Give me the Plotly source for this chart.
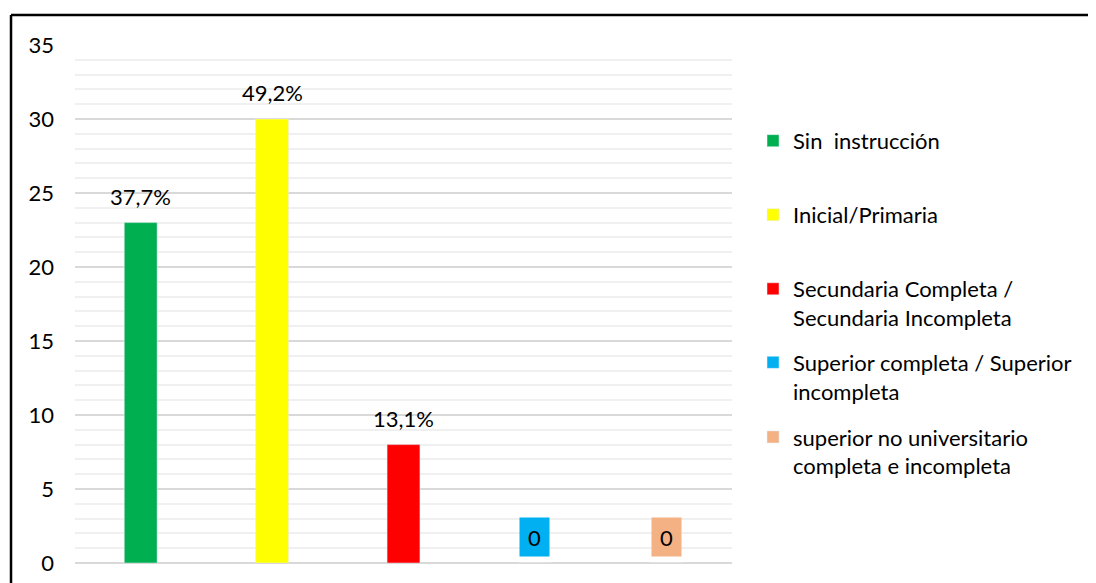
import plotly.graph_objects as go

categories = ["Sin  instrucción", "Inicial/Primaria", "Secundaria Completa /<br>Secundaria Incompleta",
              "Superior completa / Superior<br>incompleta", "superior no universitario<br>completa e incompleta"]
values = [23, 30, 8, 0, 0]
pct_labels = ["37,7%", "49,2%", "13,1%", "0", "0"]
colors = ["#00b050", "#ffff00", "#ff0000", "#00b0f0", "#f4b183"]
legend_y = [0.815, 0.672, 0.501, 0.359, 0.215]

FONT = "Lato"
FS = 22
fig = go.Figure()
legend_ids = ["legend"] + [f"legend{i}" for i in range(2, len(categories) + 1)]
for c, v, col, lid in zip(categories, values, colors, legend_ids):
    fig.add_trace(go.Bar(x=[c], y=[v], name=c, marker_color=col, width=0.25,
                         legend=lid, showlegend=True))

for c, v, lab, col in zip(categories, values, pct_labels, colors):
    if v > 0:
        fig.add_annotation(x=c, y=v, text=lab, showarrow=False, yanchor="bottom", yshift=11,
                           font=dict(family=FONT, size=FS, color="#000"))
    else:
        fig.add_annotation(x=c, y=v, text=lab, showarrow=False, yanchor="bottom", yshift=6,
                           bgcolor=col, borderpad=5, width=19, height=28,
                           font=dict(family=FONT, size=FS, color="#000"))

# outer frame (top and left edges)
fig.add_shape(type="line", xref="paper", yref="paper", x0=-0.0974, x1=1.8, y0=1.058, y1=1.058,
              line=dict(color="#000", width=2.5))
fig.add_shape(type="line", xref="paper", yref="paper", x0=-0.0974, x1=-0.0974, y0=1.058, y1=-0.2,
              line=dict(color="#000", width=2.5))

legends = {}
for lid, ly in zip(legend_ids, legend_y):
    legends[lid] = dict(x=1.032, xanchor="left", y=ly, yanchor="middle", valign="top",
                        font=dict(family=FONT, size=FS, color="#000"),
                        itemwidth=30, bgcolor="rgba(0,0,0,0)")

fig.update_layout(
    width=1096, height=583,
    margin=dict(l=67, r=372, t=37, b=28),
    paper_bgcolor="white", plot_bgcolor="white",
    barmode="overlay",
    font=dict(family=FONT, size=FS, color="#000"),
    xaxis=dict(showticklabels=False, showgrid=False, zeroline=False, showline=False),
    yaxis=dict(range=[0, 35], dtick=5, showgrid=True, gridcolor="#d9d9d9", gridwidth=1.5,
               zeroline=True, zerolinecolor="#d9d9d9", zerolinewidth=1.5,
               ticklabelstandoff=20, tickfont=dict(family=FONT, size=FS, color="#000"),
               minor=dict(dtick=1, showgrid=True, gridcolor="#f0f0f0", gridwidth=1.5)),
    **legends,
)

fig.write_html("out.html")
